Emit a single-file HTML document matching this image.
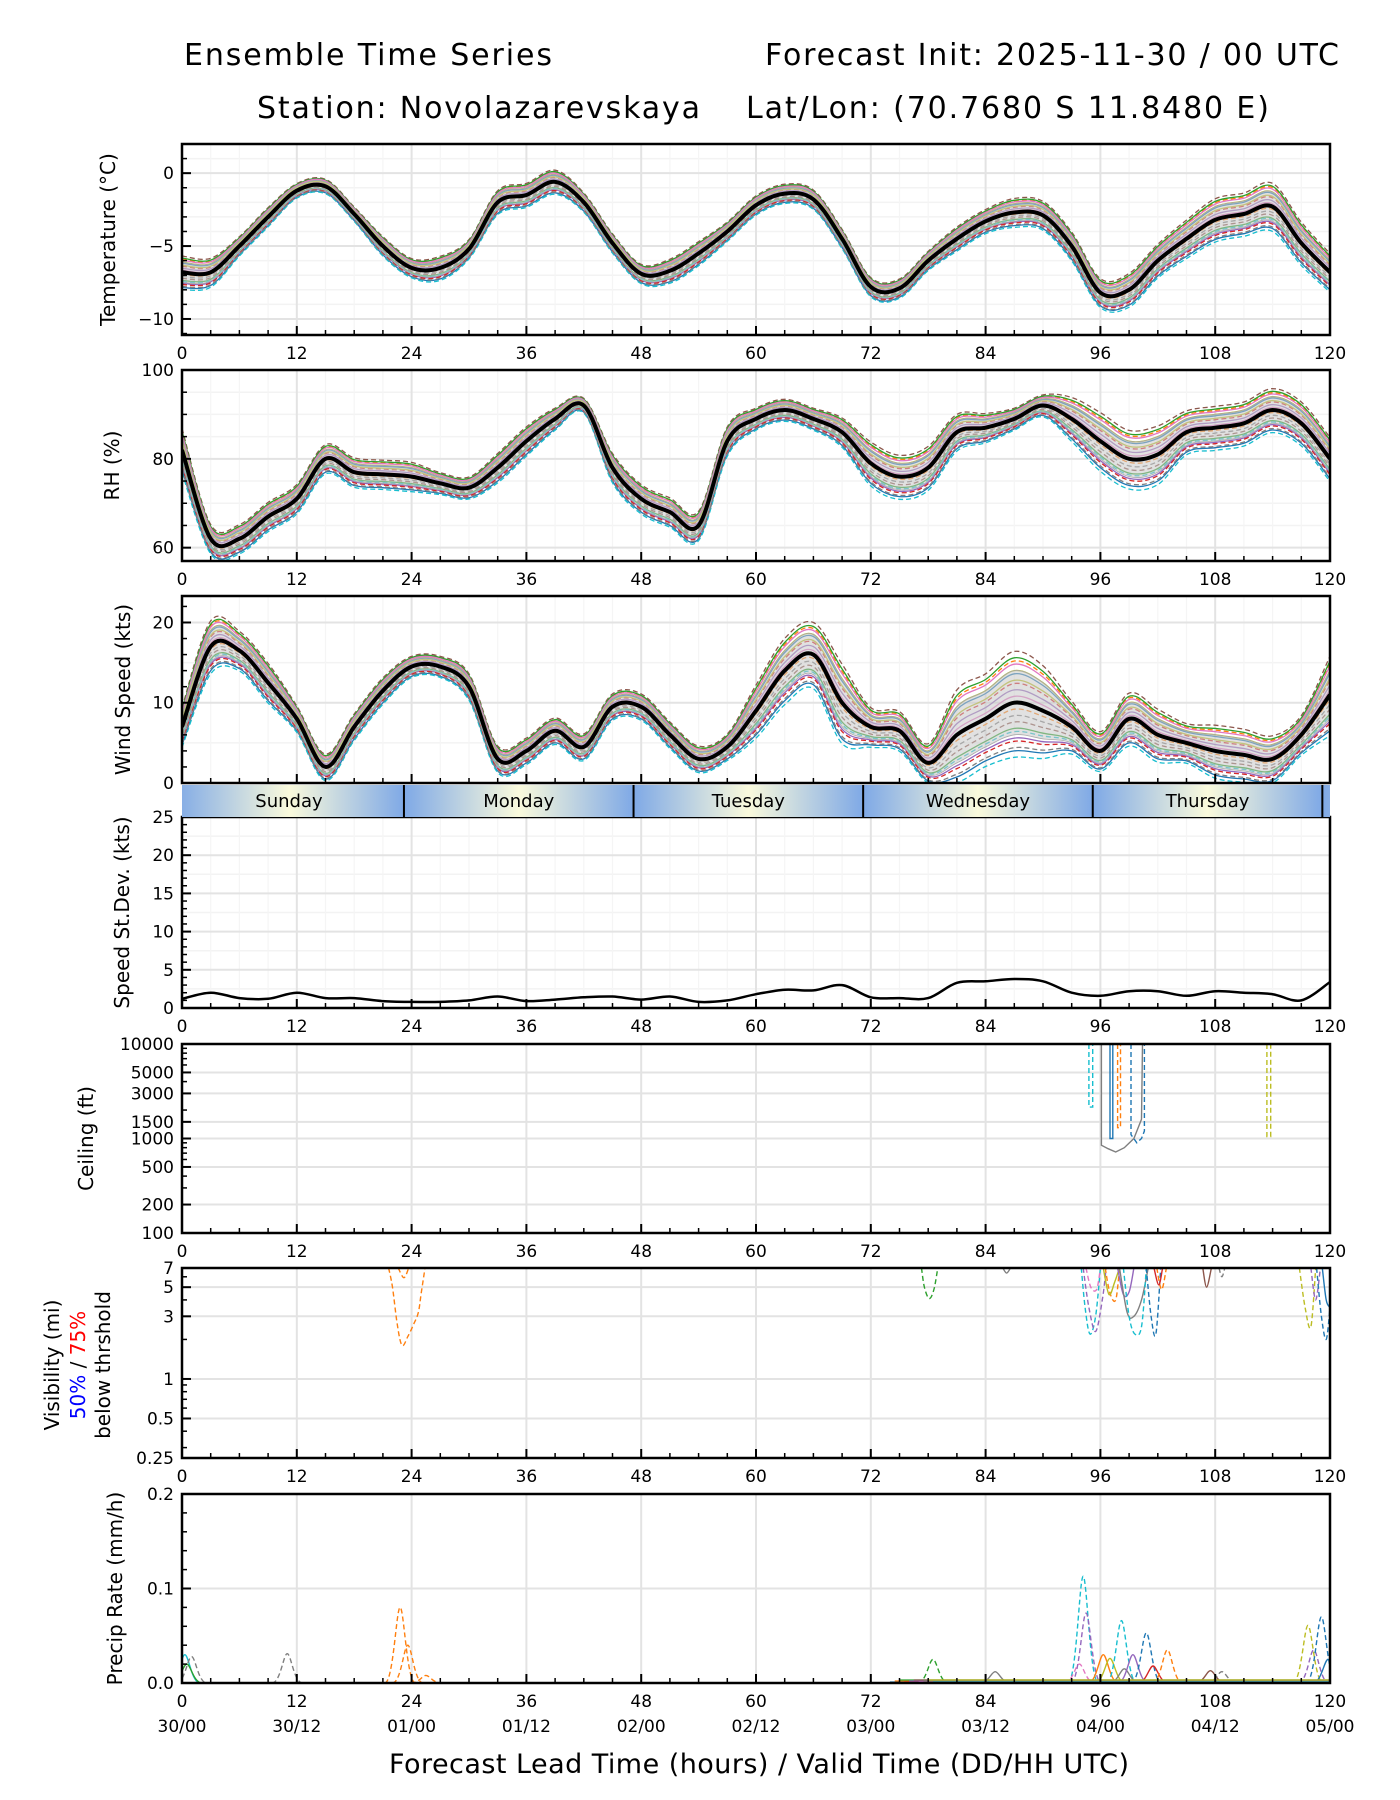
<!DOCTYPE html>
<html><head><meta charset="utf-8"><style>
html,body{margin:0;padding:0;background:#fff;}
svg{display:block;font-family:"DejaVu Sans","Liberation Sans",sans-serif;}
</style></head><body>
<svg id="chart" width="1400" height="1800" viewBox="0 0 1400 1800" xmlns="http://www.w3.org/2000/svg">
<defs>
<linearGradient id="dayGrad" x1="0" x2="1" y1="0" y2="0">
<stop offset="0" stop-color="#7fa9e6"/><stop offset="0.5" stop-color="#fafadc"/><stop offset="1" stop-color="#7fa9e6"/>
</linearGradient>
</defs>
<g>
<text x="184" y="65" font-size="30" textLength="368">Ensemble Time Series</text>
<text x="765" y="65" font-size="30" textLength="574">Forecast Init: 2025-11-30 / 00 UTC</text>
<text x="257" y="118" font-size="30" textLength="443">Station: Novolazarevskaya</text>
<text x="746" y="118" font-size="30" textLength="523">Lat/Lon: (70.7680 S 11.8480 E)</text>
</g>
<g id="plots"></g>
<text x="759" y="1773" font-size="27" text-anchor="middle" textLength="740">Forecast Lead Time (hours) / Valid Time (DD/HH UTC)</text>
</svg>
<script>
const hours = [0,3,6,9,12,15,18,21,24,27,30,33,36,39,42,45,48,51,54,57,60,63,66,69,72,75,78,81,84,87,90,93,96,99,102,105,108,111,114,117,120];
const tempMean = [-6.8,-6.8,-5.0,-3.0,-1.2,-0.9,-2.8,-5.0,-6.5,-6.5,-5.2,-2.0,-1.5,-0.6,-2.0,-4.8,-6.9,-6.7,-5.5,-4.0,-2.2,-1.4,-1.8,-4.5,-7.8,-7.9,-6.0,-4.5,-3.3,-2.7,-2.9,-5.0,-8.2,-8.0,-6.0,-4.5,-3.2,-2.8,-2.3,-4.8,-6.8];
const tempSpread = [0.7,0.6,0.4,0.4,0.3,0.3,0.3,0.4,0.4,0.5,0.4,0.5,0.5,0.5,0.4,0.4,0.4,0.5,0.5,0.4,0.4,0.4,0.4,0.4,0.4,0.4,0.4,0.5,0.5,0.6,0.6,0.6,0.6,0.7,0.7,0.8,0.9,0.9,1.0,0.9,0.8];
const rhMean = [82,62,62,67,71,80,77,76.5,76,74.5,73.5,78,84,89,92,78,71,68,65,84,89,91,89,86,79,76,78,86,87,89,92,89,84,80,81,86,87,88,91,88,80];
const rhSpread = [3,2,2,2,2,2,2,2,2,1.5,1.5,2,2,1.5,1,2,2,2,2,2,1.5,1.5,1.5,2,3,3,3,2.5,2,1.5,1.5,3,4,4,4,3,3,3,3,3,3];
const windMean = [7,17,16.5,12.5,8,2,7,11.5,14.5,14.5,12,3,4,6.5,4.5,9.5,9.5,6,3,4.5,9,14,16,10,7,6.5,2.5,6,8,10,9,7,4,8,6,5,4,3.5,3,6,11];
const windSpread = [1.5,2,1.5,1.5,1,1,1,1,0.8,0.8,1,1,1,1,1,1,1,1,1,1,2,2.5,2.5,3,1.5,1.5,1.5,3.5,3.5,4,3.5,2,1.5,2,2,1.5,2,2,1.8,1.5,3];
const stdevVals = [1.2,2.0,1.3,1.2,2.0,1.3,1.3,0.9,0.8,0.8,1.0,1.5,0.9,1.1,1.4,1.5,1.1,1.5,0.8,1.0,1.8,2.4,2.3,3.0,1.4,1.3,1.3,3.3,3.5,3.8,3.5,2.0,1.6,2.2,2.2,1.6,2.2,2.0,1.8,1.0,3.4];
const memberFactors = [-1.5,1.3,-0.8,0.6,-1.1,1.6,0.2,-0.4,1.0,-1.7,0.9,-0.2,1.4,-1.2,0.4,-0.6,1.2,-1.4,0.7,-0.9];
const dayNames = ["Sunday","Monday","Tuesday","Wednesday","Thursday"];
const dayStarts = [-0.8,23.2,47.2,71.2,95.2,119.2];
const xTickLabels = ["0","12","24","36","48","60","72","84","96","108","120"];
const dateLabels = ["30/00","30/12","01/00","01/12","02/00","02/12","03/00","03/12","04/00","04/12","05/00"];
const ceilTraces = [
 {c:"#17becf",d:1,p:[[94.8,10000],[94.8,2150],[95.2,2150],[95.2,10000]]},
 {c:"#7f7f7f",d:0,p:[[96.1,10000],[96.1,850],[96.8,780],[97.6,720],[98.5,800],[99.5,1000],[100.3,1600],[100.4,10000]]},
 {c:"#1f77b4",d:0,p:[[97.0,10000],[97.0,1000],[97.3,1000],[97.3,10000]]},
 {c:"#ff7f0e",d:1,p:[[97.8,10000],[97.8,1300],[98.1,1300],[98.1,10000]]},
 {c:"#1f77b4",d:1,p:[[99.2,10000],[99.2,1100],[99.8,900],[100.3,1000],[100.6,1200],[100.6,10000]]},
 {c:"#bcbd22",d:1,p:[[113.4,10000],[113.4,1050],[113.8,1050],[113.8,10000]]}
];
const visTraces = [
 {c:"#ff7f0e",d:1,p:[[21.6,7],[22.0,5],[22.5,2.6],[23.0,1.8],[23.6,2.1],[24.2,2.6],[24.7,3.2],[25.0,4.5],[25.4,7]]},
 {c:"#ff7f0e",d:1,p:[[22.6,7],[23.2,5.9],[23.7,7]]},
 {c:"#2ca02c",d:1,p:[[77.3,7],[77.6,5],[78.1,4.1],[78.6,4.8],[79.0,7]]},
 {c:"#7f7f7f",d:0,p:[[85.8,7],[86.2,6.4],[86.6,7]]},
 {c:"#17becf",d:1,p:[[94.0,7],[94.4,3.5],[94.9,2.2],[95.5,3],[96.0,7]]},
 {c:"#9467bd",d:1,p:[[94.2,7],[94.8,3.5],[95.5,2.3],[96.2,4],[96.6,7]]},
 {c:"#e377c2",d:1,p:[[94.5,7],[95.0,5],[95.6,4.8],[96.0,7]]},
 {c:"#ff7f0e",d:1,p:[[96.5,7],[97.0,4.5],[97.6,4],[98.0,7]]},
 {c:"#bcbd22",d:0,p:[[96.3,7],[96.9,4.4],[97.5,5.5],[98.0,7]]},
 {c:"#9467bd",d:0,p:[[97.8,7],[98.4,4.4],[99.0,4.6],[99.5,7]]},
 {c:"#7f7f7f",d:0,p:[[98.0,7],[98.8,3.2],[99.5,3.0],[100.3,4],[101.0,7]]},
 {c:"#17becf",d:1,p:[[98.4,7],[99.0,3],[99.6,2.2],[100.3,2.5],[100.8,7]]},
 {c:"#1f77b4",d:1,p:[[100.8,7],[101.3,3],[101.8,2.2],[102.3,7]]},
 {c:"#ff7f0e",d:1,p:[[101.9,7],[102.4,4.8],[102.9,7]]},
 {c:"#d62728",d:0,p:[[101.6,7],[102.1,5.2],[102.5,7]]},
 {c:"#8c564b",d:0,p:[[106.7,7],[107.1,5.0],[107.6,7]]},
 {c:"#7f7f7f",d:1,p:[[108.4,7],[108.7,6],[109.0,7]]},
 {c:"#bcbd22",d:1,p:[[116.8,7],[117.4,3.5],[118.0,2.5],[118.5,7]]},
 {c:"#9467bd",d:1,p:[[118.0,7],[118.5,4],[119.0,7]]},
 {c:"#1f77b4",d:1,p:[[118.6,7],[119.1,3],[119.6,2],[120,3.5]]},
 {c:"#1f77b4",d:0,p:[[119.2,7],[119.6,4],[120,3.5]]}
];
const precipHours = [0.3,1.0,0.5,11.0,22.8,23.6,25.5,78.5,85.0,94.2,94.5,93.8,96.3,97.0,98.2,98.5,99.4,100.8,101.5,103.0,107.5,108.7,117.7,118.3,119.1,119.8];
const precipPeaks = [0.030,0.028,0.020,0.031,0.080,0.040,0.008,0.025,0.012,0.113,0.074,0.020,0.030,0.026,0.066,0.015,0.030,0.053,0.018,0.035,0.013,0.012,0.061,0.035,0.070,0.025];
const precipColors = ["#17becf","#7f7f7f","#2ca02c","#7f7f7f","#ff7f0e","#ff7f0e","#ff7f0e","#2ca02c","#7f7f7f","#17becf","#9467bd","#e377c2","#ff7f0e","#bcbd22","#17becf","#7f7f7f","#9467bd","#1f77b4","#d62728","#ff7f0e","#8c564b","#7f7f7f","#bcbd22","#9467bd","#1f77b4","#1f77b4"];
const precipDash = [0,1,0,1,1,1,1,1,0,1,1,1,0,0,1,0,0,1,0,1,0,1,1,1,1,0];

const tab10 = ["#1f77b4","#ff7f0e","#2ca02c","#d62728","#9467bd","#8c564b","#e377c2","#7f7f7f","#bcbd22","#17becf"];
const NS = "http://www.w3.org/2000/svg";
const root = document.getElementById('plots');
const X0 = 182, X1 = 1330;
function xs(h){ return X0 + (h/120)*(X1-X0); }
function mk(tag, attrs, parent){ const e=document.createElementNS(NS,tag); for(const k in attrs) e.setAttribute(k,attrs[k]); (parent||root).appendChild(e); return e; }
function linY(lo,hi,top,bot){ return v => bot - (v-lo)/(hi-lo)*(bot-top); }
function logY(lo,hi,top,bot){ return v => bot - (Math.log(v)-Math.log(lo))/(Math.log(hi)-Math.log(lo))*(bot-top); }

const panels = [
 {name:"temperature",top:144,bot:335,y:linY(-11.1,2,144,335),ticks:[0,-5,-10],labels:["0","\u22125","\u221210"],minor:[2,1,-1,-2,-3,-4,-6,-7,-8,-9,-11],mgrid:[1,-1,-2,-3,-4,-6,-7,-8,-9],label:"Temperature (\u00b0C)",lx:108},
 {name:"rh",top:370,bot:561,y:linY(57,100,370,561),ticks:[60,80,100],labels:["60","80","100"],minor:[65,70,75,85,90,95],mgrid:[65,70,75,85,90,95],label:"RH (%)",lx:112},
 {name:"wind-speed",top:596,bot:783,y:linY(0,23.3,596,783),ticks:[0,10,20],labels:["0","10","20"],minor:[2,4,6,8,12,14,16,18,22],mgrid:[5,15],label:"Wind Speed (kts)",lx:123},
 {name:"speed-stdev",top:817,bot:1008,y:linY(0,25,817,1008),ticks:[0,5,10,15,20,25],labels:["0","5","10","15","20","25"],minor:[1,2,3,4,6,7,8,9,11,12,13,14,16,17,18,19,21,22,23,24],mgrid:[2.5,7.5,12.5,17.5,22.5],label:"Speed St.Dev. (kts)",lx:122},
 {name:"ceiling",top:1044,bot:1233,y:logY(100,10000,1044,1233),ticks:[100,200,500,1000,1500,3000,5000,10000],labels:["100","200","500","1000","1500","3000","5000","10000"],minor:[300,400,600,700,800,900,2000,4000,6000,7000,8000,9000],mgrid:[],label:"Ceiling (ft)",lx:86},
 {name:"visibility",top:1268,bot:1458,y:logY(0.25,7,1268,1458),ticks:[0.25,0.5,1,3,5,7],labels:["0.25","0.5","1","3","5","7"],minor:[0.3,0.4,0.6,0.7,0.8,0.9,2,4,6],mgrid:[],label:null,lx:0},
 {name:"precip",top:1494,bot:1683,y:linY(0,0.2,1494,1683),ticks:[0,0.1,0.2],labels:["0.0","0.1","0.2"],minor:[0.02,0.04,0.06,0.08,0.12,0.14,0.16,0.18],mgrid:[],label:"Precip Rate (mm/h)",lx:115}
];

// smooth path through points (Catmull-Rom rendered as cubic Beziers)
function smoothPts(pts){
  let d="M"+pts[0][0].toFixed(1)+","+pts[0][1].toFixed(1);
  for(let i=0;i<pts.length-1;i++){
    const p0=pts[Math.max(0,i-1)], p1=pts[i], p2=pts[i+1], p3=pts[Math.min(pts.length-1,i+2)];
    const c1x=p1[0]+(p2[0]-p0[0])/6, c1y=p1[1]+(p2[1]-p0[1])/6;
    const c2x=p2[0]-(p3[0]-p1[0])/6, c2y=p2[1]-(p3[1]-p1[1])/6;
    d+=" C"+c1x.toFixed(1)+","+c1y.toFixed(1)+" "+c2x.toFixed(1)+","+c2y.toFixed(1)+" "+p2[0].toFixed(1)+","+p2[1].toFixed(1);
  }
  return d;
}
function pathOf(hs, vs, y){ return smoothPts(hs.map((h,i)=>[xs(h), y(vs[i])])); }
function pathPairs(p, y){ return p.map((q,i)=>(i?"L":"M")+xs(q[0]).toFixed(1)+","+y(q[1]).toFixed(1)).join(""); }

panels.forEach((P, pi) => {
  const g = mk('g', {});
  
  
  const clipId = 'clip'+pi;
  const cp = mk('clipPath',{id:clipId}, g); mk('rect',{x:X0,y:P.top,width:X1-X0,height:P.bot-P.top},cp);
  P.mgrid.forEach(v => { const l=mk('line',{x1:X0,x2:X1,y1:P.y(v),y2:P.y(v),stroke:"#f3f3f3","stroke-width":1.5},g);   });
  for(let h=3; h<120; h+=3){ if(h%12 && pi<4){ const l=mk('line',{x1:xs(h),x2:xs(h),y1:P.top,y2:P.bot,stroke:"#f5f5f5","stroke-width":1.2},g);   } }
  P.ticks.forEach(v => { const l=mk('line',{x1:X0,x2:X1,y1:P.y(v),y2:P.y(v),stroke:"#e3e3e3","stroke-width":2},g);   });
  for(let h=12; h<120; h+=12){ const l=mk('line',{x1:xs(h),x2:xs(h),y1:P.top,y2:P.bot,stroke:"#e3e3e3","stroke-width":2},g);   }
  const data = mk('g',{"clip-path":"url(#"+clipId+")"},g);
  
  
  let mean=null, spread=null;
  if(pi===0){mean=tempMean;spread=tempSpread;}
  if(pi===1){mean=rhMean;spread=rhSpread;}
  if(pi===2){mean=windMean;spread=windSpread;}
  if(mean){
    memberFactors.forEach((f,k)=>{
      const vs = mean.map((m,i)=>Math.max(pi===2?0:-99, m + f*spread[i]));
      const pth = mk('path',{d:pathOf(hours,vs,P.y),fill:"none",stroke:tab10[k%10],"stroke-width":1.3,"stroke-dasharray":(k%2?"5,3":"none")},data);
      
      
    });
    const upPts = hours.map((h,i)=>[xs(h), P.y(mean[i]+spread[i])]);
    const dnPts = hours.map((h,i)=>[xs(h), P.y(Math.max(pi===2?0:-99,mean[i]-spread[i]))]).reverse();
    const dn = smoothPts(dnPts).replace(/^M/,"L");
    const band = mk('path',{d:smoothPts(upPts)+dn+"Z",fill:"#c8c8c8","fill-opacity":0.55,stroke:"#aaaaaa","stroke-width":0.8},data);
    
    
    const ml = mk('path',{d:pathOf(hours,mean,P.y),fill:"none",stroke:"#000","stroke-width":4,"stroke-linejoin":"round"},data);
    
    
  }
  if(pi===3){
    const sl = mk('path',{d:pathOf(hours,stdevVals,P.y),fill:"none",stroke:"#000","stroke-width":2.5},data);
    
    
  }
  if(pi===4 || pi===5){
    (pi===4?ceilTraces:visTraces).forEach(t=>{
      const pts=t.p.map(q=>[xs(q[0]),P.y(q[1])]);
      const pth = mk('path',{d:pi===5?smoothPts(pts):pathPairs(t.p,P.y),fill:"none",stroke:t.c,"stroke-width":1.4,"stroke-dasharray":t.d?"5,3":"none"},data);
      
      
    });
  }
  if(pi===6){
    precipHours.forEach((h,i)=>{
      const v=precipPeaks[i];
      const d="M"+xs(h-1.6)+","+P.y(0)+" C"+xs(h-0.7)+","+P.y(0)+" "+xs(h-0.4)+","+P.y(v)+" "+xs(h)+","+P.y(v)+" C"+xs(h+0.4)+","+P.y(v)+" "+xs(h+0.7)+","+P.y(0)+" "+xs(h+1.6)+","+P.y(0);
      const pth = mk('path',{d:d,fill:"none",stroke:precipColors[i],"stroke-width":1.4,"stroke-dasharray":precipDash[i]?"5,3":"none"},data);
      
      
    });
    tab10.forEach((c,k)=>{
      const b = mk('line',{x1:xs(74+k*0.5),x2:xs(120),y1:P.y(0)-1-(k%3),y2:P.y(0)-1-(k%3),stroke:c,"stroke-width":1.2},data);
      
      
    });
  }
  const fr = mk('rect',{x:X0,y:P.top,width:X1-X0,height:P.bot-P.top,fill:"none",stroke:"#000","stroke-width":2.5},g);
  
  
  for(let h=0; h<=120; h+=3){
    const len = h%12===0?9:5;
    const t=mk('line',{x1:xs(h),x2:xs(h),y1:P.bot,y2:P.bot-len,stroke:"#000","stroke-width":h%12===0?2:1.5},g);
     
  }
  if(pi!==2){
    xTickLabels.forEach((s,i)=>{
      const t=mk('text',{x:xs(i*12),y:P.bot+24,"font-size":17,"text-anchor":"middle"},g); t.textContent=s;
       
    });
  }
  P.ticks.forEach((v,i)=>{
    const t=mk('line',{x1:X0,x2:X0+9,y1:P.y(v),y2:P.y(v),stroke:"#000","stroke-width":2},g);
     
    const tl=mk('text',{x:X0-8,y:P.y(v)+6,"font-size":17,"text-anchor":"end"},g); tl.textContent=P.labels[i];
     
  });
  P.minor.forEach(v=>{
    const t=mk('line',{x1:X0,x2:X0+5,y1:P.y(v),y2:P.y(v),stroke:"#000","stroke-width":1.5},g);
     
  });
  if(P.label){
    const cy=(P.top+P.bot)/2;
    const yl=mk('text',{x:P.lx,y:cy,"font-size":20,"text-anchor":"middle",transform:"rotate(-90 "+P.lx+" "+cy+")","dominant-baseline":"central"},g);
    yl.textContent=P.label;
     
  }
});
(function(){
  const cy=1365;
  const lines=[[52,"Visibility (mi)"],[78,null],[103,"below thrshold"]];
  lines.forEach(l=>{
    const t=mk('text',{x:l[0],y:cy,"font-size":20,"text-anchor":"middle","dominant-baseline":"central",transform:"rotate(-90 "+l[0]+" "+cy+")"});
    
    
    if(l[1]) t.textContent=l[1];
    else { const a=mk('tspan',{fill:"#0000ff"},t); a.textContent="50%"; const b=mk('tspan',{fill:"#000"},t); b.textContent=" / "; const c=mk('tspan',{fill:"#ff0000"},t); c.textContent="75%"; }
  });
})();
dateLabels.forEach((s,i)=>{
  const t=mk('text',{x:xs(i*12),y:1732,"font-size":17,"text-anchor":"middle"}); t.textContent=s;
   
});
(function(){
  const top=785, bot=817;
  const g=mk('g',{});
   
  const cp=mk('clipPath',{id:'bandclip'},g); mk('rect',{x:X0,y:top,width:X1-X0,height:bot-top},cp);
  const inner=mk('g',{"clip-path":"url(#bandclip)"},g);
  for(let i=0;i<dayStarts.length;i++){
    const s=dayStarts[i], e=(i+1<dayStarts.length)?dayStarts[i+1]:dayStarts[i]+24;
    const r=mk('rect',{x:xs(s),y:top,width:xs(e)-xs(s),height:bot-top,fill:"url(#dayGrad)"},inner);
     
    if(i>0){ const l=mk('line',{x1:xs(s),x2:xs(s),y1:top,y2:bot,stroke:"#000","stroke-width":2},inner);   }
    if(i<dayNames.length){
      const t=mk('text',{x:(xs(Math.max(s,0))+xs(e))/2 - (i===0?4:0),y:(top+bot)/2+6,"font-size":18,"text-anchor":"middle"},inner); t.textContent=dayNames[i];
       
    }
  }
})();
</script>
</body></html>
